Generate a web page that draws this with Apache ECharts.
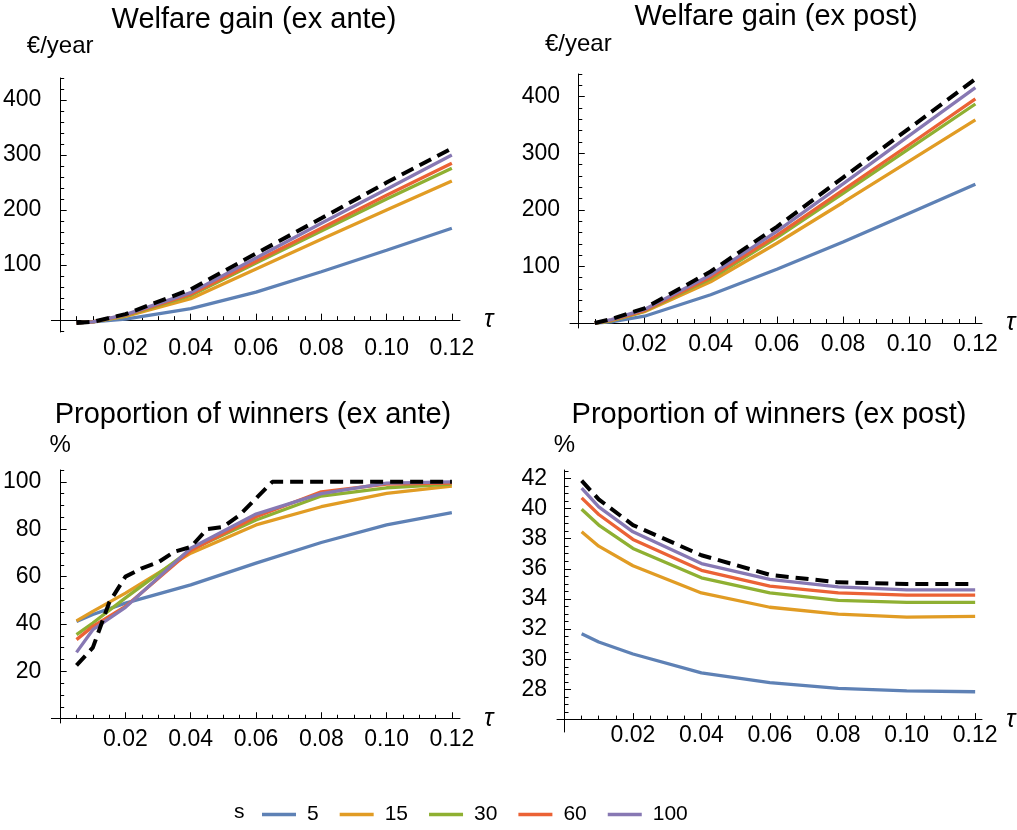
<!DOCTYPE html>
<html>
<head>
<meta charset="utf-8">
<script src="https://cdn.jsdelivr.net/npm/echarts@6/dist/echarts.min.js"></script>
<style>
  html, body { margin: 0; padding: 0; background: #fff; }
  #chart { width: 1017px; height: 830px; }
</style>
</head>
<body>
<div id="chart"></div>
<script>
// tau grid of the s-curves, and the finer grid of the dashed curve (bottom left)
const tau = [0.005, 0.01, 0.02, 0.04, 0.06, 0.08, 0.10, 0.12]
const tauFine = [0.005, 0.01, 0.015, 0.02, 0.025, 0.03, 0.035, 0.04, 0.045, 0.05, 0.055, 0.06,
  0.065, 0.07, 0.075, 0.08, 0.085, 0.09, 0.095, 0.10, 0.105, 0.11, 0.115, 0.12]

const sLabels = ['5', '15', '30', '60', '100']
const sColors = ['#5E81B5', '#E19C24', '#8FB032', '#EB6235', '#8778B3']

// Welfare gain (ex ante), €/year, one row per s
const gainAnte = [
  [-5, -3, 2, 21, 51, 88, 127, 167],
  [-5, -3, 7, 39, 93, 147, 200, 253],
  [-5, -3, 8, 45, 104, 162, 220, 276],
  [-5, -3, 9, 47, 107, 167, 227, 285],
  [-5, -3, 10, 50, 113, 176, 238, 300]
]
const gainAnteMax = [-5, -3, 11, 56, 121, 185, 250, 312]

// Welfare gain (ex post), €/year
const gainPost = [
  [0, 2, 12, 50, 95, 143, 194, 245],
  [0, 4, 20, 73, 141, 213, 286, 359],
  [0, 4, 21, 78, 151, 229, 308, 387],
  [0, 5, 22, 81, 155, 235, 315, 396],
  [0, 6, 24, 85, 162, 246, 331, 416]
]
const gainPostMax = [0, 7, 26, 91, 170, 257, 344, 431]

// Proportion of winners (ex ante), %
const winAnte = [
  [41, 44, 48.8, 56.5, 65.7, 74.4, 81.8, 87],
  [41.3, 45.3, 53, 69.9, 81.8, 89.5, 95.1, 98.2],
  [35.5, 40.4, 51, 71.3, 83.9, 94, 97.5, 99],
  [33.4, 39, 47.4, 71, 85.3, 95.8, 99, 99.5],
  [28, 37.6, 47, 72, 86.4, 95, 99.5, 100]
]
const winAnteMax = [22.5, 30, 49, 60, 63.5, 66, 70.5, 72.5, 80, 81, 86, 93,
  100, 100, 100, 100, 100, 100, 100, 100, 100, 100, 100, 100]

// Proportion of winners (ex post), %
const winPost = [
  [31.7, 31.15, 30.35, 29.1, 28.45, 28.07, 27.9, 27.85],
  [38.45, 37.5, 36.2, 34.4, 33.45, 33.0, 32.8, 32.85],
  [39.95, 38.9, 37.35, 35.4, 34.4, 33.9, 33.77, 33.77],
  [40.7, 39.6, 37.95, 35.9, 34.85, 34.4, 34.25, 34.25],
  [41.35, 40.1, 38.45, 36.35, 35.3, 34.8, 34.6, 34.6]
]
const winPostMax = [41.84, 40.6, 38.9, 36.9, 35.6, 35.1, 35.0, 35.0]

// ticks
const xMajor = [0.02, 0.04, 0.06, 0.08, 0.10, 0.12]
const xMinor = [0.005, 0.01, 0.015, 0.025, 0.03, 0.035, 0.045, 0.05, 0.055, 0.065, 0.07, 0.075,
  0.085, 0.09, 0.095, 0.105, 0.11, 0.115]
const gainMajor = [100, 200, 300, 400]
const gainMinor = [-20, 20, 40, 60, 80, 120, 140, 160, 180, 220, 240, 260, 280, 320, 340, 360, 380, 420, 440]
const winAnteMajor = [20, 40, 60, 80, 100]
const winAnteMinor = [5, 10, 15, 25, 30, 35, 45, 50, 55, 65, 70, 75, 85, 90, 95, 105]
const winPostMajor = [28, 30, 32, 34, 36, 38, 40, 42]
const winPostMinor = [26.5, 27, 27.5, 28.5, 29, 29.5, 30.5, 31, 31.5, 32.5, 33, 33.5, 34.5, 35, 35.5,
  36.5, 37, 37.5, 38.5, 39, 39.5, 40.5, 41, 41.5, 42.5]

const FONT = 'Liberation Sans'
const black = '#000'

const panels = [
  { title: 'Welfare gain (ex ante)', titleX: 254, titleY: 5, grid: { left: 48, top: 78, width: 412, height: 254 },
    x: [-0.0027, 0.1225], y: [-21.5, 440], yMajor: gainMajor, yMinor: gainMinor, yName: '€/year', nameGap: 20,
    lines: gainAnte, max: gainAnteMax, maxTau: tau, xOffset: 0 },
  { title: 'Welfare gain (ex post)', titleX: 776, titleY: 2, grid: { left: 570, top: 74, width: 412, height: 254 },
    x: [-0.0025, 0.122], y: [-8.8, 440], yMajor: gainMajor, yMinor: gainMinor.slice(1), yName: '€/year', nameGap: 18,
    lines: gainPost, max: gainPostMax, maxTau: tau, xOffset: 0 },
  { title: 'Proportion of winners (ex ante)', titleX: 253, titleY: 400, grid: { left: 48, top: 470, width: 412, height: 253 },
    x: [-0.0027, 0.1225], y: [-1.8, 105], yMajor: winAnteMajor, yMinor: winAnteMinor, yName: '%', nameGap: 13,
    lines: winAnte, max: winAnteMax, maxTau: tauFine, xOffset: 0 },
  { title: 'Proportion of winners (ex post)', titleX: 769, titleY: 400, grid: { left: 557, top: 470, width: 425, height: 262 },
    x: [-0.0022, 0.122], y: [25.18, 42.55], yMajor: winPostMajor, yMinor: winPostMinor, yName: '%', nameGap: 13,
    lines: winPost, max: winPostMax, maxTau: tau, xOffset: -12.4 }
]

const grid = []
const xAxis = []
const yAxis = []
const series = []
const title = []

panels.forEach((p, i) => {
  grid.push(p.grid)
  title.push({
    text: p.title,
    left: p.titleX,
    top: p.titleY,
    textAlign: 'center',
    padding: 0,
    textStyle: { fontFamily: FONT, fontSize: 29, fontWeight: 'normal', color: black }
  })
  // main x axis + one that only carries the short minor ticks
  xAxis.push({
    gridIndex: i, type: 'value', min: p.x[0], max: p.x[1], position: 'bottom', offset: p.xOffset,
    axisLine: { onZero: true, lineStyle: { color: black, width: 1 } },
    axisTick: { inside: true, length: 6.5, customValues: xMajor, lineStyle: { color: black } },
    axisLabel: { customValues: xMajor, formatter: v => v.toFixed(2), margin: 5,
      fontFamily: FONT, fontSize: 23, color: black },
    splitLine: { show: false },
    name: 'τ', nameLocation: 'end', nameGap: 24,
    nameTextStyle: { fontFamily: FONT, fontStyle: 'italic', fontSize: 25, color: black }
  })
  xAxis.push({
    gridIndex: i, type: 'value', min: p.x[0], max: p.x[1], position: 'bottom', offset: p.xOffset,
    axisLine: { show: false, onZero: true },
    axisTick: { inside: true, length: 4, customValues: xMinor, lineStyle: { color: black } },
    axisLabel: { show: false },
    splitLine: { show: false }
  })
  yAxis.push({
    gridIndex: i, type: 'value', min: p.y[0], max: p.y[1], position: 'left',
    axisLine: { onZero: true, lineStyle: { color: black, width: 1 } },
    axisTick: { inside: true, length: 6.5, customValues: p.yMajor, lineStyle: { color: black } },
    axisLabel: { customValues: p.yMajor, margin: 10, fontFamily: FONT, fontSize: 23, color: black },
    splitLine: { show: false },
    name: p.yName, nameLocation: 'end', nameGap: p.nameGap,
    nameTextStyle: { fontFamily: FONT, fontSize: 24, color: black }
  })
  yAxis.push({
    gridIndex: i, type: 'value', min: p.y[0], max: p.y[1], position: 'left',
    axisLine: { show: false, onZero: true },
    axisTick: { inside: true, length: 4, customValues: p.yMinor, lineStyle: { color: black } },
    axisLabel: { show: false },
    splitLine: { show: false }
  })
  p.lines.forEach((vals, k) => {
    series.push({
      name: sLabels[k], type: 'line', xAxisIndex: 2 * i, yAxisIndex: 2 * i,
      data: tau.map((t, j) => [t, vals[j]]),
      showSymbol: false, symbol: 'none',
      color: sColors[k],
      lineStyle: { color: sColors[k], width: 3.3 },
      itemStyle: { color: sColors[k] }
    })
  })
  series.push({
    name: 'max', type: 'line', xAxisIndex: 2 * i, yAxisIndex: 2 * i,
    data: p.maxTau.map((t, j) => [t, p.max[j]]),
    showSymbol: false, symbol: 'none',
    lineStyle: { color: black, width: 4, type: [13, 7], cap: 'butt' },
    itemStyle: { color: black }
  })
})

const chart = echarts.init(document.getElementById('chart'))
chart.setOption({
  animation: false,
  backgroundColor: '#fff',
  title: title,
  grid: grid,
  xAxis: xAxis,
  yAxis: yAxis,
  legend: {
    data: sLabels.map(s => ({ name: s, icon: 'rect' })),
    left: 262,
    top: 804,
    padding: 0,
    itemWidth: 34,
    itemHeight: 3.5,
    itemGap: 21,
    textStyle: { fontFamily: FONT, fontSize: 21, color: black, padding: [0, 0, 0, 6] }
  },
  graphic: [{
    type: 'text', left: 234, top: 802,
    style: { text: 's', fontFamily: FONT, fontSize: 21, fill: black }
  }],
  series: series
})
</script>
</body>
</html>
